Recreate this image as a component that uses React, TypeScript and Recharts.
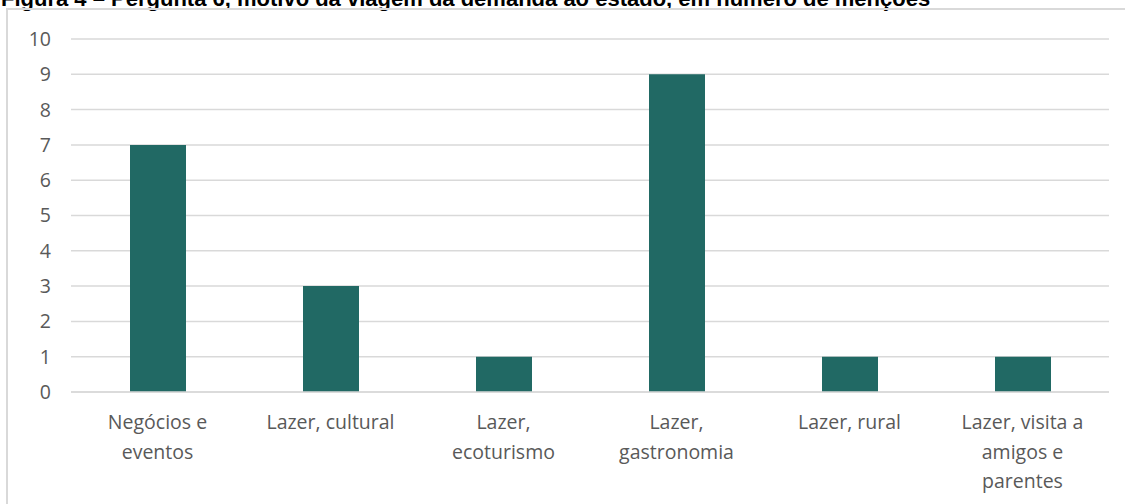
import React from "react";
import { BarChart, Bar, XAxis, YAxis, CartesianGrid } from "recharts";

const categories = [
  "Negócios e eventos",
  "Lazer, cultural",
  "Lazer, ecoturismo",
  "Lazer, gastronomia",
  "Lazer, rural",
  "Lazer, visita a amigos e parentes",
];
const mentions = [7, 3, 1, 9, 1, 1];
const yTicks = [0, 1, 2, 3, 4, 5, 6, 7, 8, 9, 10];
const title =
  "Figura 4 – Pergunta 6, motivo da viagem da demanda ao estado, em número de menções";

const data = categories.map((name, i) => ({ name, value: mentions[i] }));

const FONT = "'Open Sans', 'Noto Sans', sans-serif";
const GRAY = "#595959";

function wrap(label: string, max: number): string[] {
  const words = label.split(" ");
  const lines: string[] = [];
  let cur = "";
  for (const w of words) {
    const next = cur ? cur + " " + w : w;
    if (next.length > max && cur) {
      lines.push(cur);
      cur = w;
    } else {
      cur = next;
    }
  }
  if (cur) lines.push(cur);
  return lines;
}

const XTick = (props: any) => {
  const { x, y, payload } = props;
  const lines = wrap(String(payload.value), 15);
  return (
    <text
      x={x}
      y={y}
      textAnchor="middle"
      fill={GRAY}
      fontSize={19.5}
      fontFamily={FONT}
    >
      {lines.map((l, i) => (
        <tspan key={i} x={x} y={y + 29 + i * 29.5}>
          {l}
        </tspan>
      ))}
    </text>
  );
};

export default function App() {
  return (
    <div
      style={{
        position: "absolute",
        left: 0,
        top: 0,
        width: 1125,
        height: 504,
        overflow: "hidden",
        background: "#fff",
      }}
    >
      <div
        style={{
          position: "absolute",
          left: 1,
          top: -12,
          fontFamily: "'Liberation Sans', Arial, sans-serif",
          fontWeight: "bold",
          fontSize: 22,
          color: "#000",
          whiteSpace: "nowrap",
          lineHeight: "22px",
        }}
      >
        {title}
      </div>
      <div
        style={{
          position: "absolute",
          left: 6,
          top: 8,
          width: 1125,
          height: 504,
          borderLeft: "2px solid #d9d9d9",
          borderTop: "2px solid #d9d9d9",
        }}
      />
      <div style={{ position: "absolute", left: 0, top: 0 }}>
        <BarChart
          width={1125}
          height={504}
          data={data}
          margin={{ top: 39, right: 16, bottom: 0, left: 11 }}
        >
          <CartesianGrid
            vertical={false}
            stroke="#d9d9d9"
            strokeWidth={1.5}
          />
          <XAxis
            dataKey="name"
            axisLine={{ stroke: "#d9d9d9", strokeWidth: 1.5 }}
            tickLine={false}
            tick={<XTick />}
            interval={0}
            height={112}
          />
          <YAxis
            domain={[0, 10]}
            ticks={yTicks}
            interval={0}
            axisLine={false}
            tickLine={false}
            tickSize={0}
            tickMargin={20}
            width={60}
            tick={{ fill: GRAY, fontSize: 19.5, fontFamily: FONT }}
          />
          <Bar
            dataKey="value"
            fill="#216964"
            barSize={56}
            isAnimationActive={false}
          />
        </BarChart>
      </div>
    </div>
  );
}
